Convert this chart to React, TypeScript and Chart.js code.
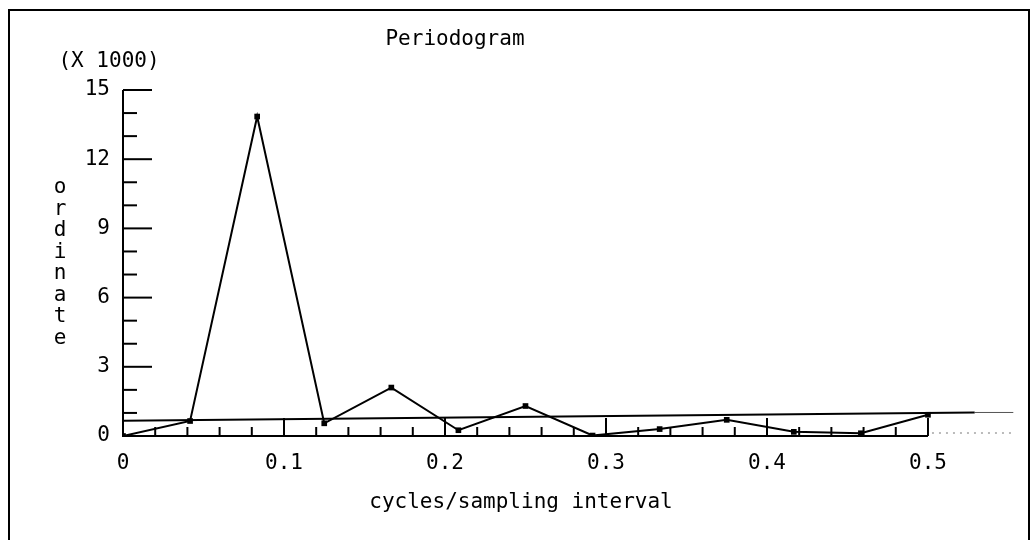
import React, { useEffect, useRef } from "react";
import { Chart, registerables } from "chart.js";

Chart.register(...registerables);

// cycles/sampling interval (frequencies j/24)
const FREQ = [0, 1 / 24, 2 / 24, 3 / 24, 4 / 24, 5 / 24, 6 / 24, 7 / 24, 8 / 24, 9 / 24, 10 / 24, 11 / 24, 12 / 24];
// ordinate (x 1000)
const ORDINATE = [0, 0.65, 13.85, 0.55, 2.1, 0.25, 1.3, 0.02, 0.3, 0.7, 0.18, 0.12, 0.92];
// reference line (x 1000)
const REF_X = [0, 0.529];
const REF_Y = [0.66, 1.02];
const REF_EXT_X = [0.529, 0.553];
const REF_EXT_Y = [1.02, 1.02];

const X_TICKS = [0, 0.1, 0.2, 0.3, 0.4, 0.5];
const X_MINOR_STEP = 0.02;
const Y_TICKS = [0, 3, 6, 9, 12, 15];
const Y_MINOR_STEP = 1;

const TITLE = "Periodogram";
const Y_UNIT = "(X 1000)";
const Y_TITLE = "ordinate";
const X_TITLE = "cycles/sampling interval";

const FONT = "DejaVu Sans Mono";
const FONT_SIZE = 21;

const decorPlugin = {
  id: "decor",
  beforeDraw(chart: any) {
    const ctx = chart.ctx;
    ctx.save();
    ctx.fillStyle = "#fff";
    ctx.fillRect(0, 0, chart.width, chart.height);
    ctx.restore();
  },
  afterDatasetsDraw(chart: any) {
    const ctx = chart.ctx;
    const xs = chart.scales.x;
    const ys = chart.scales.y;
    const x0 = xs.getPixelForValue(0);
    const x5 = xs.getPixelForValue(0.5);
    const y0 = ys.getPixelForValue(0);
    const y15 = ys.getPixelForValue(15);
    ctx.save();
    ctx.strokeStyle = "#000";
    ctx.lineWidth = 2;
    // outer frame
    ctx.strokeRect(9, 10, 1020, 560);
    // axes
    ctx.beginPath();
    ctx.moveTo(x0, y15);
    ctx.lineTo(x0, y0);
    ctx.lineTo(x5, y0);
    ctx.stroke();
    // y ticks (pointing right)
    for (let v = 0; v <= 15 + 1e-9; v += Y_MINOR_STEP) {
      const major = Y_TICKS.some((t) => Math.abs(t - v) < 1e-6);
      const py = ys.getPixelForValue(v);
      ctx.beginPath();
      ctx.moveTo(x0, py);
      ctx.lineTo(x0 + (major ? 29 : 14), py);
      ctx.stroke();
    }
    // x ticks (pointing up)
    for (let v = X_MINOR_STEP; v <= 0.5 + 1e-9; v += X_MINOR_STEP) {
      const major = X_TICKS.some((t) => Math.abs(t - v) < 1e-6);
      const px = xs.getPixelForValue(v);
      ctx.beginPath();
      ctx.moveTo(px, y0);
      ctx.lineTo(px, y0 - (major ? 18 : 9));
      ctx.stroke();
    }
    // faint dotted baseline continuation
    ctx.lineWidth = 1;
    ctx.strokeStyle = "#777";
    ctx.setLineDash([2, 5]);
    ctx.beginPath();
    ctx.moveTo(x5 + 4, y0 - 3);
    ctx.lineTo(xs.getPixelForValue(0.553), y0 - 3);
    ctx.stroke();
    ctx.setLineDash([]);

    // texts
    ctx.fillStyle = "#000";
    ctx.font = `${FONT_SIZE}px "${FONT}"`;
    ctx.textAlign = "center";
    ctx.textBaseline = "middle";
    ctx.fillText(TITLE, 455, 40);
    ctx.fillText(Y_UNIT, 109, 62);
    ctx.fillText(X_TITLE, 521, 503);
    for (let i = 0; i < Y_TITLE.length; i++) {
      ctx.fillText(Y_TITLE[i], 60, 188 + i * 21.5);
    }
    ctx.restore();
  },
};

export default function App() {
  const ref = useRef<HTMLCanvasElement>(null);
  useEffect(() => {
    if (!ref.current) return;
    const chart = new Chart(ref.current, {
      type: "line",
      data: {
        datasets: [
          {
            data: FREQ.map((f, i) => ({ x: f, y: ORDINATE[i] })),
            borderColor: "#000",
            backgroundColor: "#000",
            borderWidth: 2,
            pointStyle: "rect",
            pointRadius: 4,
            pointBorderWidth: 0,
            tension: 0,
          },
          {
            data: REF_X.map((x, i) => ({ x, y: REF_Y[i] })),
            borderColor: "#000",
            borderWidth: 2,
            pointRadius: 0,
            tension: 0,
          },
          {
            data: REF_EXT_X.map((x, i) => ({ x, y: REF_EXT_Y[i] })),
            borderColor: "#555",
            borderWidth: 1,
            pointRadius: 0,
            tension: 0,
          },
        ],
      },
      options: {
        responsive: false,
        animation: false,
        devicePixelRatio: 1,
        layout: { padding: { left: 63, top: 90, right: 15, bottom: 64 } },
        plugins: { legend: { display: false }, tooltip: { enabled: false }, title: { display: false } },
        scales: {
          x: {
            type: "linear",
            min: 0,
            max: 0.5553,
            grid: { display: false, drawTicks: false },
            border: { display: false },
            afterBuildTicks: (s: any) => {
              s.ticks = X_TICKS.map((v) => ({ value: v }));
            },
            afterFit: (s: any) => {
              s.height = 40;
            },
            ticks: {
              autoSkip: false,
              maxRotation: 0,
              padding: 15,
              color: "#000",
              font: { family: FONT, size: FONT_SIZE },
              callback: (v: any) => (Number(v) === 0 ? "0" : Number(v).toFixed(1)),
            },
          },
          y: {
            type: "linear",
            min: 0,
            max: 15,
            grid: { display: false, drawTicks: false },
            border: { display: false },
            afterBuildTicks: (s: any) => {
              s.ticks = Y_TICKS.map((v) => ({ value: v }));
            },
            afterFit: (s: any) => {
              s.width = 60;
            },
            ticks: {
              padding: 13,
              color: "#000",
              font: { family: FONT, size: FONT_SIZE },
              callback: (v: any) => String(v),
            },
          },
        },
      },
      plugins: [decorPlugin],
    });
    return () => chart.destroy();
  }, []);
  return (
    <div style={{ position: "absolute", left: 0, top: 0, width: 1032, height: 540 }}>
      <canvas ref={ref} width={1032} height={540} style={{ display: "block" }} />
    </div>
  );
}
